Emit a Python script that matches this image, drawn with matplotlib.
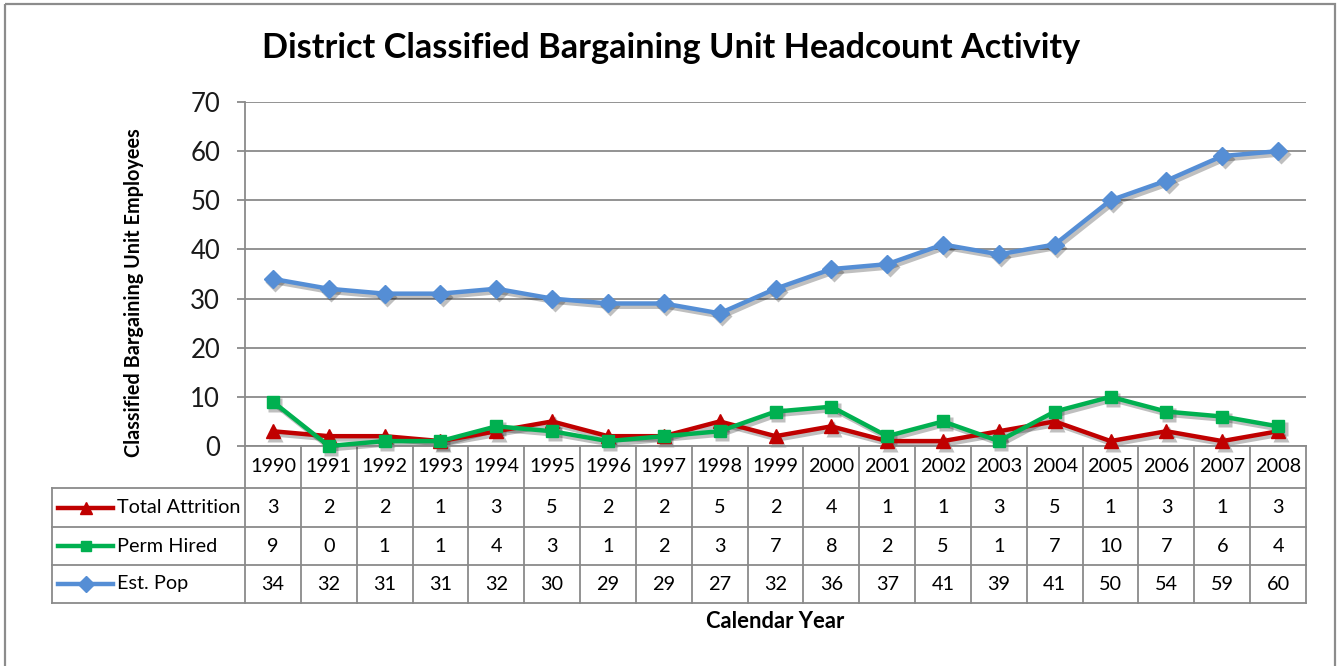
import matplotlib
matplotlib.use("Agg")
import matplotlib.pyplot as plt
import matplotlib.transforms as mtransforms
from matplotlib.patches import Rectangle

plt.rcParams['font.family'] = ['Lato', 'DejaVu Sans']

years = ['1990', '1991', '1992', '1993', '1994', '1995', '1996', '1997', '1998', '1999',
         '2000', '2001', '2002', '2003', '2004', '2005', '2006', '2007', '2008']
total_attrition = [3, 2, 2, 1, 3, 5, 2, 2, 5, 2, 4, 1, 1, 3, 5, 1, 3, 1, 3]
perm_hired = [9, 0, 1, 1, 4, 3, 1, 2, 3, 7, 8, 2, 5, 1, 7, 10, 7, 6, 4]
est_pop = [34, 32, 31, 31, 32, 30, 29, 29, 27, 32, 36, 37, 41, 39, 41, 50, 54, 59, 60]

series = [
    ('Total Attrition', total_attrition, '#C00000', '^', 10),
    ('Perm Hired', perm_hired, '#00B050', 's', 8.5),
    ('Est. Pop', est_pop, '#558ED5', 'D', 9),
]

W, H = 1339, 666
grey = '#8a8a8a'
fig = plt.figure(figsize=(W / 100, H / 100), dpi=100)

# overlay in pixel coords (y down) for table/frame
over = fig.add_axes([0, 0, 1, 1], zorder=0)
over.set_xlim(0, W)
over.set_ylim(H, 0)
over.axis('off')

ax = fig.add_axes([245 / W, 1 - 446 / H, (1306 - 245) / W, (446 - 102) / H], zorder=1)
ax.set_facecolor('none')

# outer chart frame
over.add_patch(Rectangle((5, 4), 1330, 700, fill=False, ec='#8c8c8c', lw=1.6, clip_on=False))

x = list(range(len(years)))
shadow = mtransforms.offset_copy(ax.transData, fig=fig, x=2.5, y=-3, units='dots')
for name, vals, col, mk, ms in series:
    ax.plot(x, vals, color='#000000', alpha=0.25, lw=3.6, marker=mk, ms=ms + 1,
            mec='none', transform=shadow, zorder=2, clip_on=False)
    ax.plot(x, vals, color=col, lw=3.2, marker=mk, ms=ms, mec=col, zorder=3, clip_on=False)

ax.set_xlim(-0.5, len(years) - 0.5)
ax.set_ylim(0, 70)
ax.set_yticks(range(0, 71, 10))
ax.set_xticks([])
ax.grid(axis='y', color=grey, lw=1.3)
ax.set_axisbelow(True)
for s in ['top', 'right']:
    ax.spines[s].set_visible(False)
for s in ['left', 'bottom']:
    ax.spines[s].set_color(grey)
    ax.spines[s].set_linewidth(1.3)
ax.tick_params(axis='y', direction='out', length=6, width=1.3, color=grey,
               labelsize=18.5, pad=12, labelcolor='#1a1a1a')

ax.set_ylabel('Classified Bargaining Unit Employees', fontsize=14.3, fontweight='bold',
              labelpad=0)
ax.yaxis.set_label_coords(134 / W, 1 - 293 / H, transform=fig.transFigure)
ax.yaxis.label.set_va('center')

fig.text(671 / W, 1 - 48 / H, 'District Classified Bargaining Unit Headcount Activity',
         ha='center', va='center', fontsize=24.7, fontweight='bold')
fig.text(775 / W, 1 - 622 / H, 'Calendar Year', ha='center', va='center',
         fontsize=15.8, fontweight='bold')

# data table
bt = mtransforms.blended_transform_factory(ax.transData, over.transData)
row_edges = [446, 488, 527, 565, 603]
tlw = 1.3
for i in range(len(years) + 1):
    over.plot([i - 0.5, i - 0.5], [446, 603], color=grey, lw=tlw, transform=bt, clip_on=False)
over.plot([52, 52], [488, 603], color=grey, lw=tlw, clip_on=False)
for y in row_edges[1:]:
    over.plot([52, 1306], [y, y], color=grey, lw=tlw, clip_on=False)

tsize = 14.3
hy = (row_edges[0] + row_edges[1]) / 2
for i, yr in enumerate(years):
    over.text(i, hy, yr, ha='center', va='center', fontsize=tsize, transform=bt)
for r, (name, vals, col, mk, ms) in enumerate(series):
    cy = (row_edges[r + 1] + row_edges[r + 2]) / 2
    for i, v in enumerate(vals):
        over.text(i, cy, str(v), ha='center', va='center', fontsize=tsize, transform=bt)
    over.plot([58, 113], [cy, cy], color=col, lw=3.2, clip_on=False)
    over.plot([85.5], [cy], marker=mk, ms=ms - 1, color=col, mec=col, clip_on=False)
    over.text(117, cy, name, ha='left', va='center', fontsize=tsize)

fig.savefig('out.png', dpi=100)
